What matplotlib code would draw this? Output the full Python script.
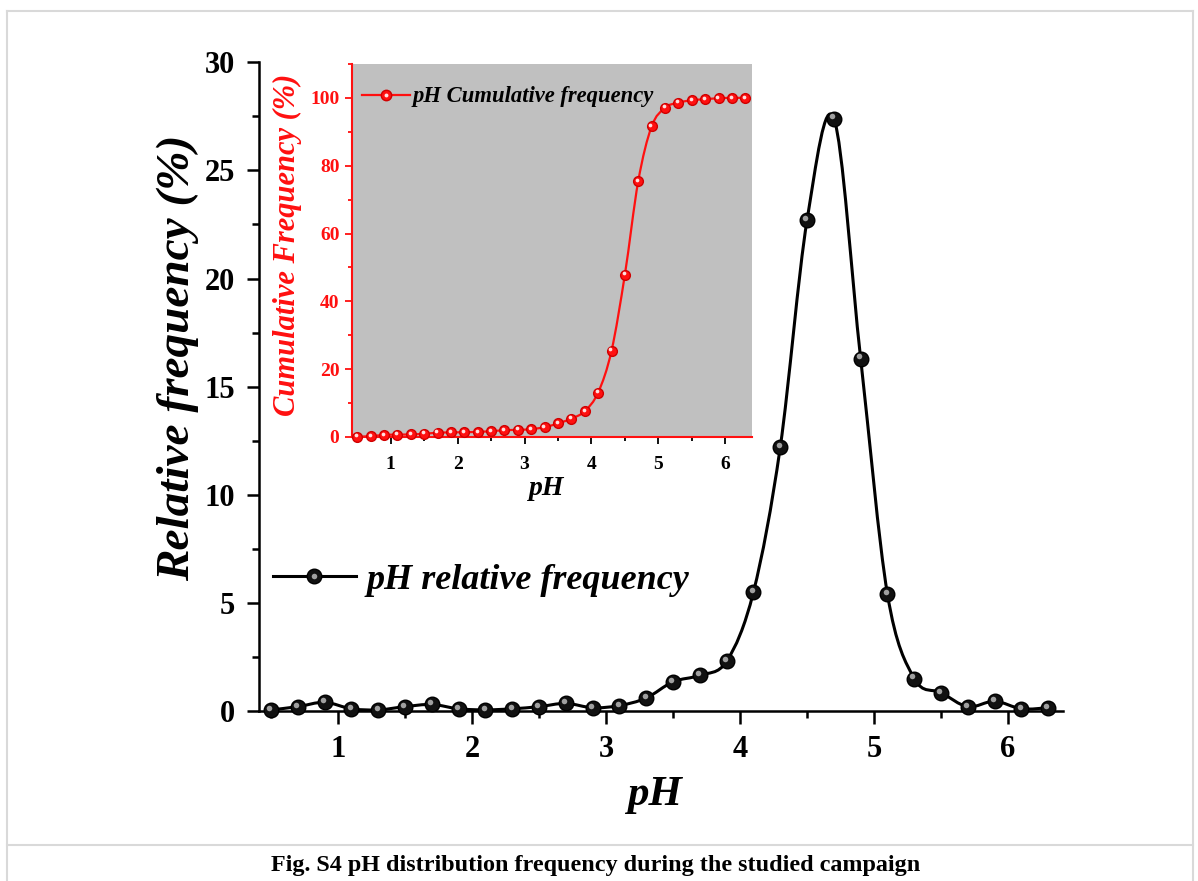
import numpy as np
import matplotlib
matplotlib.use("Agg")
import matplotlib.pyplot as plt
import matplotlib.transforms as mtransforms
from matplotlib.path import Path
from matplotlib.patches import PathPatch
from matplotlib.lines import Line2D
from matplotlib.legend_handler import HandlerTuple
from matplotlib.ticker import MultipleLocator

plt.rcParams['font.family'] = 'Liberation Serif'
plt.rcParams['font.weight'] = 'bold'

# pH bins (centres) and frequencies in %
ph = [0.5, 0.7, 0.9, 1.1, 1.3, 1.5, 1.7, 1.9, 2.1, 2.3, 2.5, 2.7, 2.9, 3.1, 3.3,
      3.5, 3.7, 3.9, 4.1, 4.3, 4.5, 4.7, 4.9, 5.1, 5.3, 5.5, 5.7, 5.9, 6.1, 6.3]
rel_freq = [0.05, 0.2, 0.4, 0.1, 0.05, 0.2, 0.3, 0.1, 0.05, 0.1, 0.2, 0.35, 0.15, 0.25, 0.6,
            1.35, 1.65, 2.3, 5.5, 12.2, 22.7, 27.4, 16.3, 5.4, 1.5, 0.85, 0.2, 0.45, 0.1, 0.15]
cum_freq = [0.05, 0.25, 0.6, 0.7, 0.75, 0.95, 1.25, 1.35, 1.4, 1.5, 1.7, 2.0, 2.1, 2.3, 2.9,
            4.0, 5.4, 7.6, 13.1, 25.4, 47.9, 75.5, 91.6, 97.1, 98.6, 99.3, 99.6, 99.9, 100.0, 100.0]


def smooth_path(x, y):
    # Catmull-Rom spline through the points, as cubic bezier segments
    pts = np.column_stack([x, y]).astype(float)
    ext = np.vstack([pts[0], pts, pts[-1]])
    verts = [pts[0]]
    codes = [Path.MOVETO]
    for i in range(1, len(ext) - 2):
        p0, p1, p2, p3 = ext[i - 1], ext[i], ext[i + 1], ext[i + 2]
        verts += [p1 + (p2 - p0) / 6, p2 - (p3 - p1) / 6, p2]
        codes += [Path.CURVE4] * 3
    return Path(verts, codes)


def balls(ax, x, y, face, edge, hl, size):
    ax.plot(x, y, 'o', ms=size, mfc=face, mec=edge, mew=1, zorder=4, clip_on=False)
    off = mtransforms.offset_copy(ax.transData, fig=fig, x=-size * 0.12, y=size * 0.14, units='points')
    ax.plot(x, y, 'o', ms=size * 0.38, mfc=hl, mew=0, transform=off, zorder=5, clip_on=False)


fig = plt.figure(figsize=(11.98, 8.81), dpi=100)

# page frame
frame = '#d9d9d9'
for xs, ys in [([7, 1193], [870, 870]), ([7, 7], [0, 870]), ([1193, 1193], [0, 870]), ([7, 1193], [36, 36])]:
    fig.add_artist(Line2D([v / 1198 for v in xs], [v / 881 for v in ys], color=frame, lw=1.5))

# main plot
ax = fig.add_axes([0.2162, 0.1930, 0.6711, 0.7363])
ax.add_patch(PathPatch(smooth_path(ph, rel_freq), fc='none', ec='black', lw=2.2, zorder=3))
balls(ax, ph, rel_freq, '#111111', 'black', '#a0a0a0', 10.5)
ax.set_xlim(0.41, 6.41)
ax.set_ylim(0, 30)
for s in ['top', 'right']:
    ax.spines[s].set_visible(False)
for s in ['left', 'bottom']:
    ax.spines[s].set_linewidth(1.8)
ax.xaxis.set_major_locator(MultipleLocator(1))
ax.xaxis.set_minor_locator(MultipleLocator(0.5))
ax.yaxis.set_major_locator(MultipleLocator(5))
ax.yaxis.set_minor_locator(MultipleLocator(2.5))
ax.tick_params(which='major', direction='out', length=9, width=1.8, labelsize=22, pad=8)
ax.tick_params(which='minor', direction='out', length=5, width=1.8)
ax.set_xlabel('pH', fontsize=31, style='italic', weight='bold')
ax.set_ylabel('Relative frequency (%)', fontsize=34, style='italic', weight='bold')
ax.xaxis.set_label_coords(0.4925, -0.10)
ax.yaxis.set_label_coords(-0.075, 0.545)

h_line = Line2D([], [], color='black', lw=2.2, marker='o', ms=10.5, mfc='#111111', mec='black')
h_hl = Line2D([], [], ls='none', marker='o', ms=4, mfc='#a0a0a0', mew=0)
ax.legend([(h_line, h_hl)], ['pH relative frequency'], handler_map={tuple: HandlerTuple(ndivide=1)},
          loc='center left', bbox_to_anchor=(0.017, 0.202), frameon=False, borderpad=0,
          borderaxespad=0, handlelength=2.3, handletextpad=0.3,
          prop={'family': 'Liberation Serif', 'size': 26, 'style': 'italic', 'weight': 'bold'})

# inset: cumulative frequency
red = '#ff1010'
axi = fig.add_axes([0.2938, 0.5040, 0.3339, 0.4234], facecolor='#c0c0c0')
axi.add_patch(PathPatch(smooth_path(ph, cum_freq), fc='none', ec=red, lw=1.6, zorder=3))
balls(axi, ph, cum_freq, red, '#d00000', '#ffe0e0', 7)
axi.set_xlim(0.42, 6.40)
axi.set_ylim(0, 110)
for s in ['top', 'right']:
    axi.spines[s].set_visible(False)
axi.spines['left'].set_color(red)
axi.spines['bottom'].set_color(red)
axi.spines['left'].set_linewidth(1.5)
axi.spines['bottom'].set_linewidth(1.5)
axi.xaxis.set_major_locator(MultipleLocator(1))
axi.xaxis.set_minor_locator(MultipleLocator(0.5))
axi.yaxis.set_major_locator(MultipleLocator(20))
axi.yaxis.set_minor_locator(MultipleLocator(10))
axi.tick_params(which='major', direction='out', length=5, width=1.3, labelsize=14, pad=4)
axi.tick_params(which='minor', direction='out', length=3, width=1.3)
axi.tick_params(axis='x', which='major', pad=8.5)
axi.tick_params(axis='y', which='both', colors=red)
axi.tick_params(axis='x', which='both', colors='black')
axi.set_xlabel('pH', fontsize=20, style='italic', weight='bold')
axi.set_ylabel('Cumulative Frequency (%)', fontsize=22, style='italic', weight='bold', color=red)
axi.xaxis.set_label_coords(0.4875, -0.105)
axi.yaxis.set_label_coords(-0.125, 0.515)

hi_line = Line2D([], [], color=red, lw=1.6, marker='o', ms=7.5, mfc=red, mec='#d00000')
hi_hl = Line2D([], [], ls='none', marker='o', ms=2.8, mfc='#ffe0e0', mew=0)
axi.legend([(hi_line, hi_hl)], ['pH Cumulative frequency'], handler_map={tuple: HandlerTuple(ndivide=1)},
           loc='center left', bbox_to_anchor=(0.025, 0.9115), frameon=False, borderpad=0,
           borderaxespad=0, handlelength=2.1, handletextpad=0.15,
           prop={'family': 'Liberation Serif', 'size': 16.3, 'style': 'italic', 'weight': 'bold'})

fig.text(0.497, 1 - 866 / 881, 'Fig. S4 pH distribution frequency during the studied campaign',
         ha='center', va='center', fontsize=17.4, weight='bold')

fig.savefig('out.png', dpi=100)
